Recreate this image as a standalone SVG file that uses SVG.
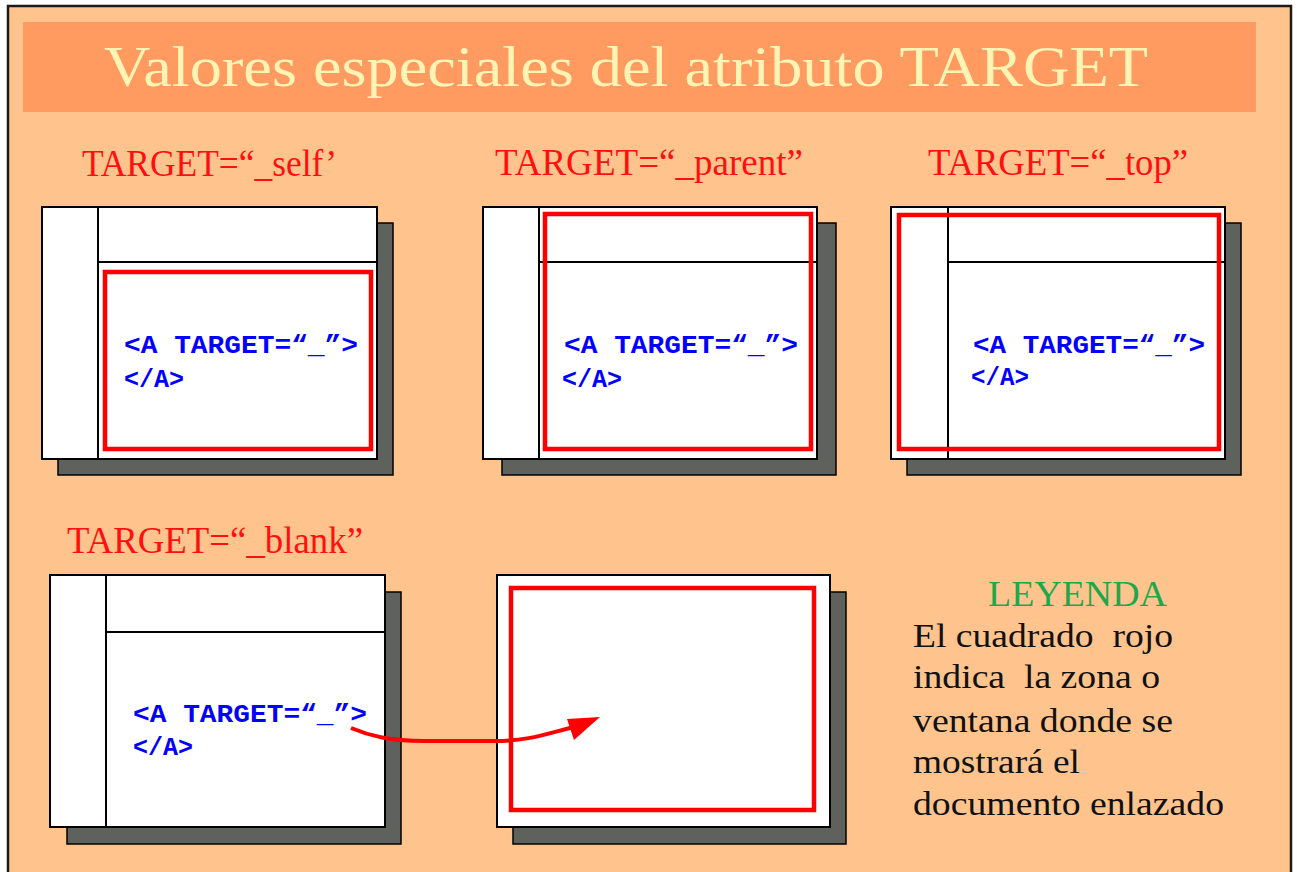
<svg xmlns="http://www.w3.org/2000/svg" width="1297" height="872" viewBox="0 0 1297 872">
<style>
.win{fill:#fff;stroke:#000;stroke-width:2}
.shadow{fill:#5f625c;stroke:#000;stroke-width:1.5}
.div{stroke:#000;stroke-width:2;fill:none}
.red{fill:none;stroke:#ff0000;stroke-width:4.5}
.lbl{font-family:"Liberation Serif",serif;font-size:38px;fill:#ff1010}
.code{font-family:"Liberation Mono",monospace;font-weight:bold;font-size:25px;fill:#0000ff}
.leg{font-family:"Liberation Serif",serif;font-size:33px;fill:#111;white-space:pre}
</style>
<rect x="0" y="0" width="1297" height="872" fill="#ffffff"/>
<rect x="8" y="6" width="1283" height="880" fill="#ffc48e" stroke="#1a1a1a" stroke-width="2.5"/>
<g id="title">
<rect x="23" y="22" width="1233" height="90" fill="#ff9a60"/>
<text x="104" y="86" font-family="Liberation Serif,serif" font-size="58" fill="#fff4b4" textLength="1044" lengthAdjust="spacingAndGlyphs">Valores especiales del atributo TARGET</text>
</g>
<g id="self">
<text class="lbl" x="82" y="176" textLength="255" lengthAdjust="spacingAndGlyphs">TARGET=“_self’</text>
<rect class="shadow" x="58" y="223" width="335" height="252"/>
<rect class="win" x="42" y="207" width="335" height="252"/>
<line class="div" x1="98" y1="207" x2="98" y2="459"/>
<line class="div" x1="98" y1="262" x2="377" y2="262"/>
<rect class="red" x="105" y="272" width="266" height="177"/>
<text class="code" x="124" y="353" textLength="234" lengthAdjust="spacingAndGlyphs">&lt;A TARGET=“_”&gt;</text>
<text class="code" x="124" y="387" textLength="60" lengthAdjust="spacingAndGlyphs">&lt;/A&gt;</text>
</g>
<g id="parent">
<text class="lbl" x="495" y="175" textLength="308" lengthAdjust="spacingAndGlyphs">TARGET=“_parent”</text>
<rect class="shadow" x="502" y="223" width="334" height="252"/>
<rect class="win" x="483" y="207" width="334" height="252"/>
<line class="div" x1="539" y1="207" x2="539" y2="459"/>
<line class="div" x1="539" y1="262" x2="817" y2="262"/>
<rect class="red" x="545" y="214" width="266" height="235"/>
<text class="code" x="564" y="353" textLength="234" lengthAdjust="spacingAndGlyphs">&lt;A TARGET=“_”&gt;</text>
<text class="code" x="562" y="387" textLength="60" lengthAdjust="spacingAndGlyphs">&lt;/A&gt;</text>
</g>
<g id="top">
<text class="lbl" x="928" y="175" textLength="260" lengthAdjust="spacingAndGlyphs">TARGET=“_top”</text>
<rect class="shadow" x="907" y="223" width="334" height="252"/>
<rect class="win" x="891" y="207" width="334" height="252"/>
<line class="div" x1="948" y1="207" x2="948" y2="459"/>
<line class="div" x1="948" y1="262" x2="1225" y2="262"/>
<rect class="red" x="899" y="215" width="320" height="234"/>
<text class="code" x="973" y="353" textLength="232" lengthAdjust="spacingAndGlyphs">&lt;A TARGET=“_”&gt;</text>
<text class="code" x="971" y="385" textLength="58" lengthAdjust="spacingAndGlyphs">&lt;/A&gt;</text>
</g>
<g id="blank">
<text class="lbl" x="67" y="553" textLength="296" lengthAdjust="spacingAndGlyphs">TARGET=“_blank”</text>
<rect class="shadow" x="67" y="592" width="334" height="252"/>
<rect class="win" x="50" y="575" width="335" height="252"/>
<line class="div" x1="106" y1="575" x2="106" y2="827"/>
<line class="div" x1="106" y1="632" x2="385" y2="632"/>
<text class="code" x="133" y="722" textLength="234" lengthAdjust="spacingAndGlyphs">&lt;A TARGET=“_”&gt;</text>
<text class="code" x="133" y="755" textLength="60" lengthAdjust="spacingAndGlyphs">&lt;/A&gt;</text>
</g>
<g id="newwindow">
<rect class="shadow" x="513" y="592" width="333" height="252"/>
<rect class="win" x="497" y="575" width="333" height="252"/>
<rect class="red" x="511" y="588" width="303" height="222"/>
</g>
<g id="connectors">
<path d="M351,728 C370,736 390,741 425,741 L495,741 C530,741 548,733 578,726" fill="none" stroke="#ff0000" stroke-width="4"/>
<polygon points="567,719 600,717 574,740" fill="#ff0000"/>
</g>
<g id="legend">
<text x="988" y="606" font-family="Liberation Serif,serif" font-size="36" fill="#1ea84a" textLength="179" lengthAdjust="spacingAndGlyphs">LEYENDA</text>
<text class="leg" x="913" y="647" textLength="260" lengthAdjust="spacingAndGlyphs">El cuadrado  rojo</text>
<text class="leg" x="913" y="688" textLength="247" lengthAdjust="spacingAndGlyphs">indica  la zona o</text>
<text class="leg" x="913" y="732" textLength="260" lengthAdjust="spacingAndGlyphs">ventana donde se</text>
<text class="leg" x="913" y="773" textLength="167" lengthAdjust="spacingAndGlyphs">mostrará el</text>
<text class="leg" x="913" y="815" textLength="311" lengthAdjust="spacingAndGlyphs">documento enlazado</text>
</g>
</svg>
